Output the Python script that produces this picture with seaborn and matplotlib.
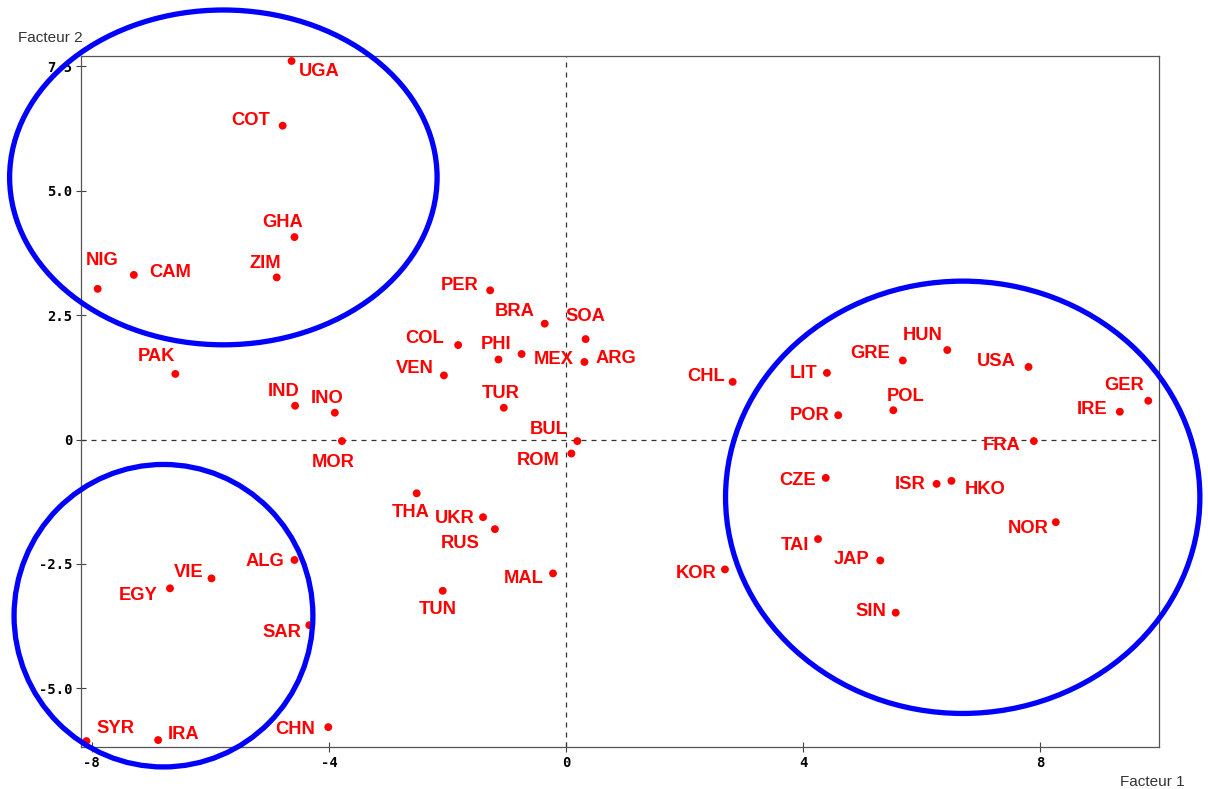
import matplotlib
matplotlib.use("Agg")
import matplotlib.pyplot as plt
from matplotlib.patches import Ellipse
import seaborn as sns
import pandas as pd

# ---- data ----
countries = ["UGA", "COT", "GHA", "ZIM", "NIG", "CAM",
             "ALG", "VIE", "EGY", "SAR", "SYR", "IRA", "CHN",
             "PAK", "IND", "INO", "MOR",
             "PER", "BRA", "SOA", "COL", "PHI", "MEX", "ARG", "VEN", "TUR", "BUL", "ROM",
             "THA", "UKR", "RUS", "MAL", "TUN", "KOR",
             "CHL", "LIT", "GRE", "HUN", "USA", "POL", "POR", "GER", "IRE", "FRA",
             "CZE", "ISR", "HKO", "NOR", "TAI", "JAP", "SIN"]
facteur1 = [-4.63, -4.78, -4.58, -4.88, -7.90, -7.29,
            -4.58, -5.98, -6.68, -4.33, -8.09, -6.88, -4.01,
            -6.59, -4.57, -3.90, -3.78,
            -1.28, -0.36, 0.33, -1.82, -1.14, -0.75, 0.31, -2.06, -1.05, 0.19, 0.09,
            -2.52, -1.40, -1.20, -0.22, -2.08, 2.68,
            2.81, 4.40, 5.68, 6.43, 7.80, 5.52, 4.59, 9.82, 9.34, 7.89,
            4.38, 6.25, 6.50, 8.26, 4.25, 5.30, 5.56]
facteur2 = [7.61, 6.31, 4.07, 3.26, 3.03, 3.31,
            -2.42, -2.79, -2.99, -3.73, -6.06, -6.04, -5.78,
            1.32, 0.68, 0.54, -0.03,
            3.00, 2.33, 2.02, 1.90, 1.61, 1.72, 1.56, 1.29, 0.64, -0.03, -0.28,
            -1.08, -1.56, -1.80, -2.69, -3.04, -2.61,
            1.16, 1.34, 1.59, 1.80, 1.46, 0.59, 0.49, 0.78, 0.56, -0.03,
            -0.77, -0.89, -0.83, -1.66, -2.00, -2.43, -3.48]

x_ticks = [-8, -4, 0, 4, 8]
x_tick_labels = ["-8", "-4", "0", "4", "8"]
y_ticks = [-5.0, -2.5, 0, 2.5, 5.0, 7.5]
y_tick_labels = ["-5.0", "-2.5", "0", "2.5", "5.0", "7.5"]

# groups circled (center x, center y, width, height) in data units
group_ellipses = [(-5.78, 5.27, 7.21, 6.73),
                  (-6.79, -3.54, 5.04, 6.08),
                  (6.69, -1.16, 8.00, 8.69)]

# ---- label placement (pixel offsets of label centre from the dot) ----
label_offsets = {
    "UGA": (28, -9), "COT": (-32, 7), "GHA": (-12, 17), "ZIM": (-11, 16),
    "NIG": (4, 30), "CAM": (36, 4),
    "ALG": (-30, 0), "VIE": (-23, 8), "EGY": (-32, -5), "SAR": (-27, -5),
    "SYR": (29, 15), "IRA": (25, 8), "CHN": (-33, 0),
    "PAK": (-19, 19), "IND": (-11, 16), "INO": (-8, 16), "MOR": (-9, -19),
    "PER": (-31, 7), "BRA": (-30, 14), "SOA": (0, 25), "COL": (-34, 9),
    "PHI": (-2, 17), "MEX": (32, -3), "ARG": (31, 5), "VEN": (-29, 9),
    "TUR": (-3, 16), "BUL": (-29, 14), "ROM": (-33, -5),
    "THA": (-6, -17), "UKR": (-28, 1), "RUS": (-35, -12), "MAL": (-29, -3),
    "TUN": (-5, -17), "KOR": (-29, -2),
    "CHL": (-27, 7), "LIT": (-23, 1), "GRE": (-33, 9), "HUN": (-25, 17),
    "USA": (-32, 7), "POL": (12, 16), "POR": (-29, 2), "GER": (-24, 17),
    "IRE": (-28, 4), "FRA": (-32, -2),
    "CZE": (-28, -1), "ISR": (-26, 1), "HKO": (34, -7), "NOR": (-28, -4),
    "TAI": (-23, -4), "JAP": (-29, 3), "SIN": (-25, 3),
}

df = pd.DataFrame({"pays": countries, "Facteur 1": facteur1, "Facteur 2": facteur2})

sns.set_style("white")
plt.rcParams["font.family"] = ["Liberation Sans", "DejaVu Sans"]

fig = plt.figure(figsize=(12.08, 7.89), dpi=100)
ax = fig.add_axes([0.0671, 0.0532, 0.8923, 0.8758])

ax.axhline(0, color="#333333", lw=0.9, ls=(0, (4, 4)), zorder=1)
ax.axvline(0, color="#333333", lw=0.9, ls=(0, (4, 4)), zorder=1)

sns.scatterplot(data=df, x="Facteur 1", y="Facteur 2", ax=ax, color="#ff0000",
                s=32, edgecolor="none", zorder=3, legend=False)

for name, xv, yv in zip(countries, facteur1, facteur2):
    dx, dy = label_offsets[name]
    ax.annotate(name, (xv, yv), xytext=(dx, dy), textcoords="offset pixels",
                ha="center", va="center_baseline", color="#ff0000",
                fontsize=13.2, fontweight="semibold",
                family=["Liberation Sans", "DejaVu Sans"],
                zorder=4, annotation_clip=False)

for cx, cy, w, h in group_ellipses:
    e = Ellipse((cx, cy), w, h, fill=False, edgecolor="#0000ff", lw=3.8,
                clip_on=False, zorder=5)
    ax.add_patch(e)

ax.set_xlim(-8.18, 10.0)
ax.set_ylim(-6.18, 7.71)
ax.set_xticks(x_ticks)
ax.set_xticklabels(x_tick_labels)
ax.set_yticks(y_ticks)
ax.set_yticklabels(y_tick_labels)
ax.set_xlabel("")
ax.set_ylabel("")

for lab in ax.get_xticklabels() + ax.get_yticklabels():
    lab.set_fontfamily(["DejaVu Sans Mono"])
    lab.set_fontweight("bold")
    lab.set_fontsize(10)
    lab.set_color("#000000")

ax.tick_params(axis="both", direction="inout", length=7, width=0.8,
               color="#444444", bottom=True, left=True, pad=3)

for sp in ax.spines.values():
    sp.set_color("#555555")
    sp.set_linewidth(0.9)
    sp.set_visible(True)

fig.text(18 / 1208, 1 - 38 / 789, "Facteur 2", ha="left", va="center",
         fontsize=11, color="#333333")
fig.text(1185 / 1208, 1 - 782 / 789, "Facteur 1", ha="right", va="center",
         fontsize=11, color="#333333")

fig.savefig("out.png", dpi=100)
